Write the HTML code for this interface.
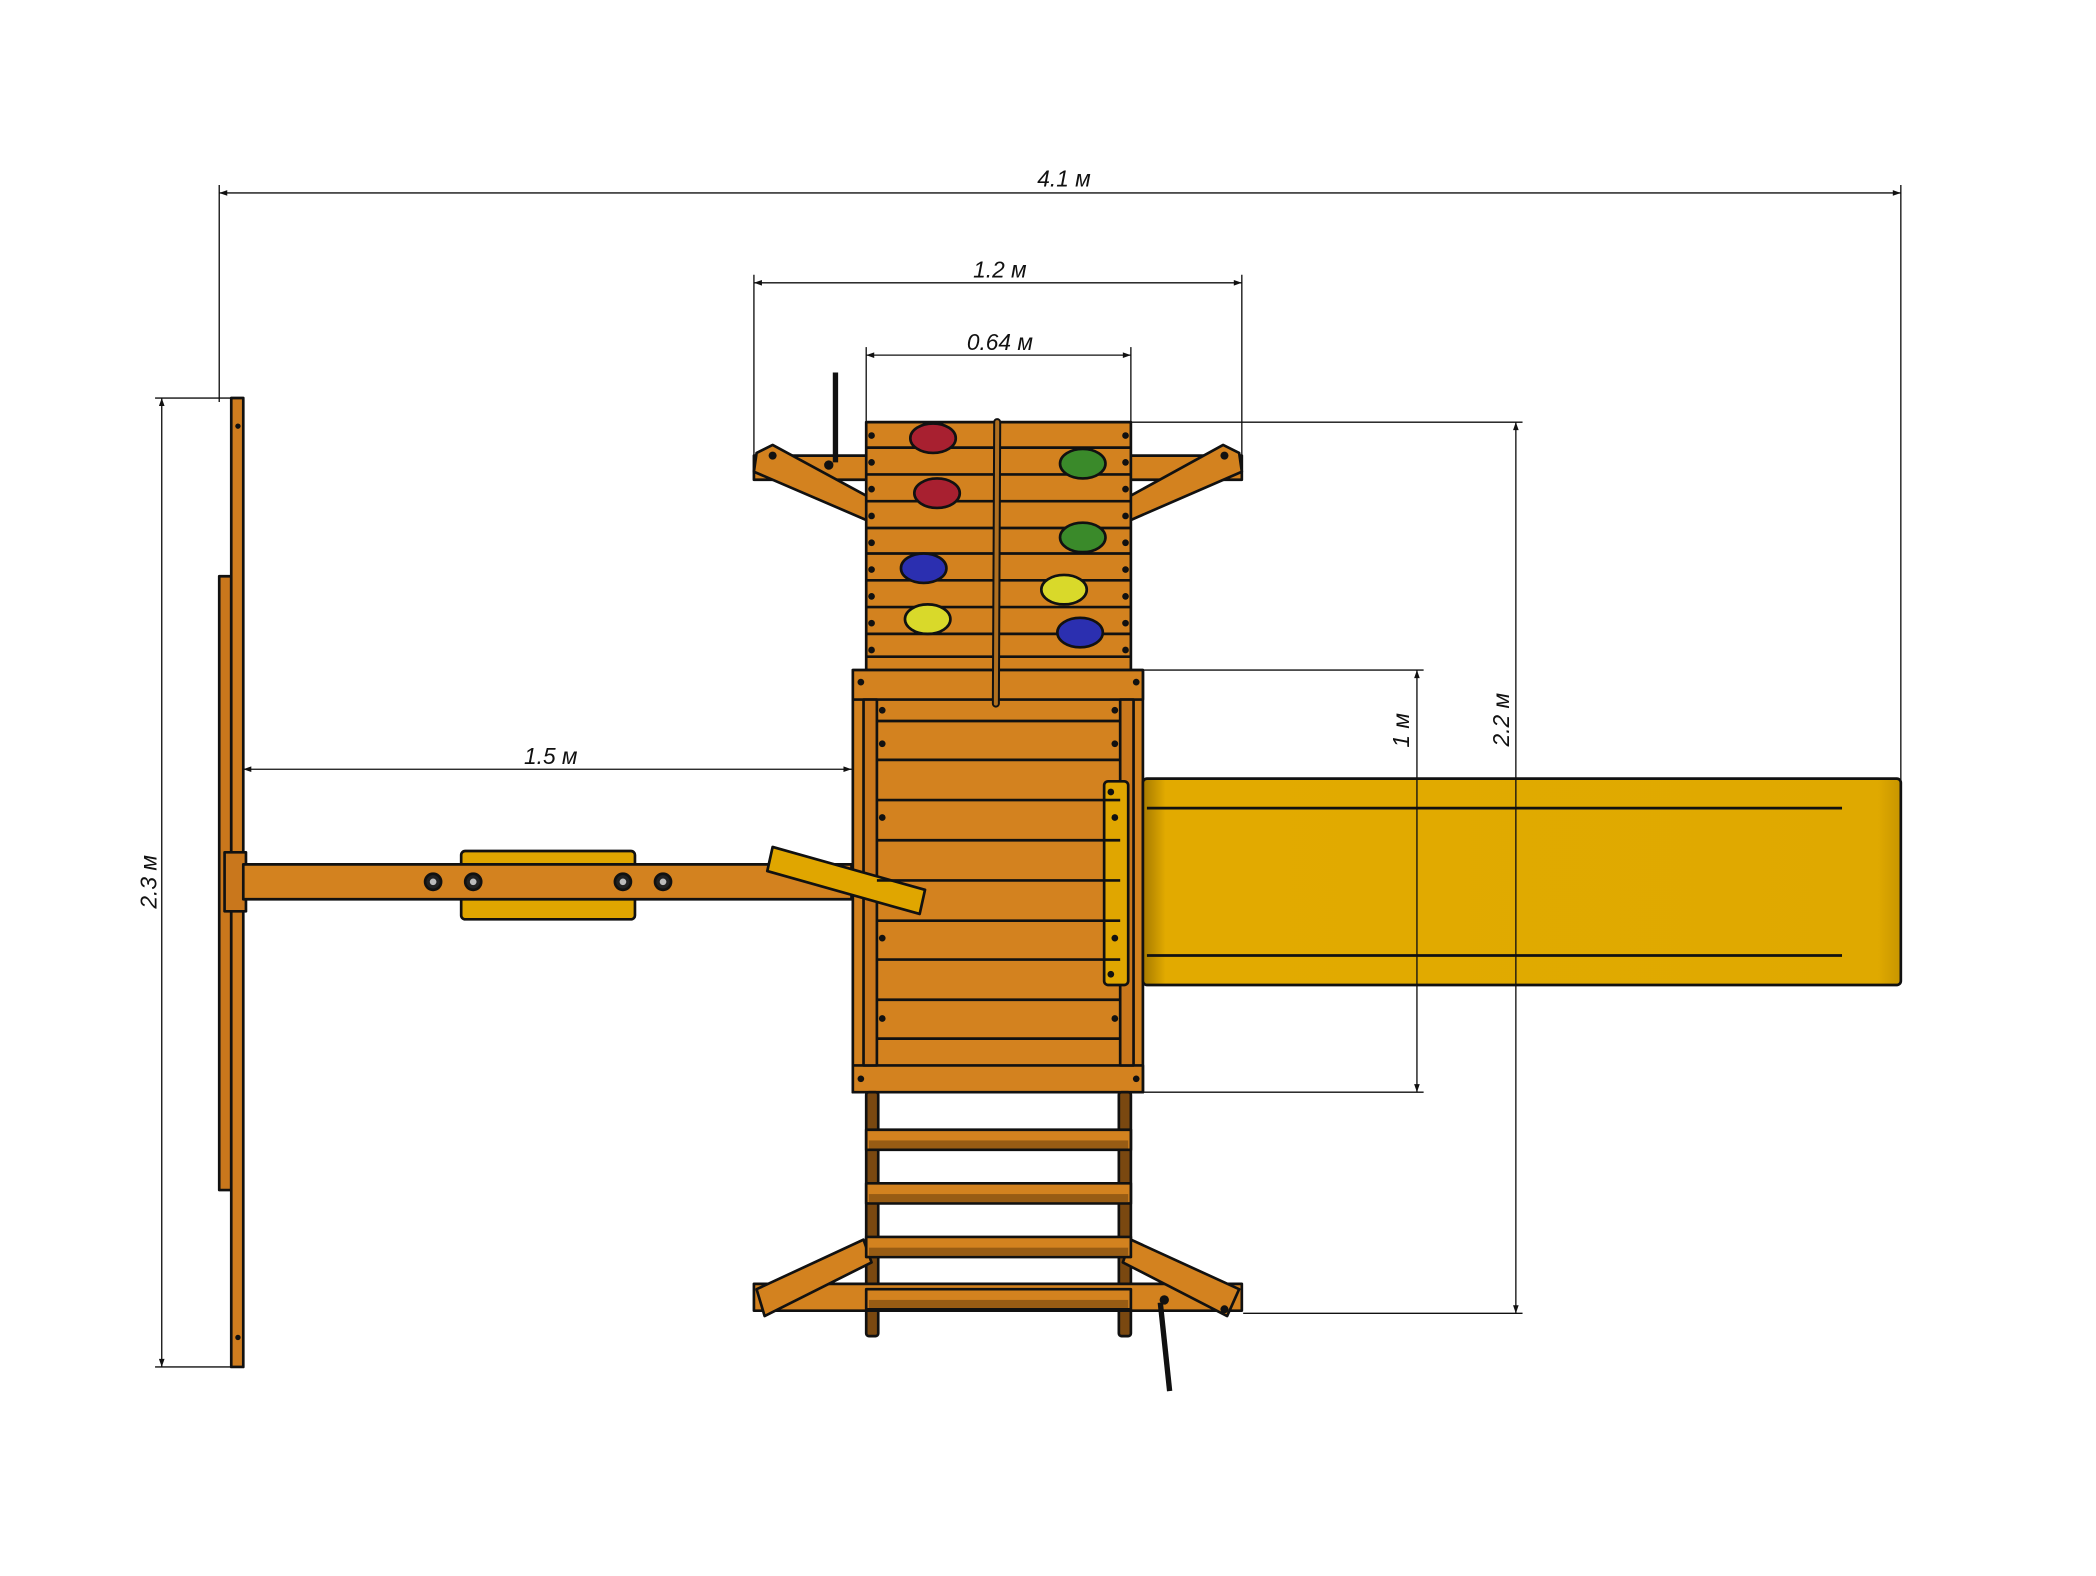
<!DOCTYPE html>
<html><head><meta charset="utf-8"><style>
html,body{margin:0;padding:0;background:#fff}
svg{display:block}
text{font-family:"Liberation Sans",sans-serif;font-style:italic;font-size:17px;fill:#111}
</style></head><body>
<svg width="2096" height="1576" viewBox="0 0 1568 1176" preserveAspectRatio="none" xmlns="http://www.w3.org/2000/svg">
<defs>
<marker id="a" viewBox="0 0 10 10" refX="10" refY="5" markerWidth="14" markerHeight="6" orient="auto-start-reverse" markerUnits="userSpaceOnUse"><path d="M0,1.5 L10,5 L0,8.5 z" fill="#111"/></marker>
<linearGradient id="sl" x1="0" x2="1"><stop offset="0" stop-color="#a57a00"/><stop offset="0.03" stop-color="#e2aa00"/><stop offset="0.97" stop-color="#dfa900"/><stop offset="1" stop-color="#c79500"/></linearGradient>
</defs>
<g stroke="#111" stroke-width="1" fill="none">
<line x1="164" y1="144" x2="1422" y2="144" marker-start="url(#a)" marker-end="url(#a)"/>
<line x1="164" y1="138" x2="164" y2="300"/><line x1="1422" y1="138" x2="1422" y2="582"/>
<line x1="564" y1="211" x2="929" y2="211" marker-start="url(#a)" marker-end="url(#a)"/>
<line x1="564" y1="205" x2="564" y2="340"/><line x1="929" y1="205" x2="929" y2="340"/>
<line x1="648" y1="265" x2="846" y2="265" marker-start="url(#a)" marker-end="url(#a)"/>
<line x1="648" y1="259" x2="648" y2="316"/><line x1="846" y1="259" x2="846" y2="316"/>
<line x1="121" y1="297" x2="121" y2="1020" marker-start="url(#a)" marker-end="url(#a)"/>
<line x1="116" y1="297" x2="180" y2="297"/><line x1="116" y1="1020" x2="180" y2="1020"/>
<line x1="182" y1="574" x2="637" y2="574" marker-start="url(#a)" marker-end="url(#a)"/>
<line x1="855" y1="500" x2="1065" y2="500"/><line x1="855" y1="815" x2="1065" y2="815"/>
<line x1="846" y1="315" x2="1139" y2="315"/><line x1="930" y1="980" x2="1139" y2="980"/>
</g>
<text x="796" y="139" text-anchor="middle">4.1 м</text>
<text x="748" y="207" text-anchor="middle">1.2 м</text>
<text x="748" y="261" text-anchor="middle">0.64 м</text>
<text x="412" y="570" text-anchor="middle">1.5 м</text>
<text transform="translate(117,658) rotate(-90)" text-anchor="middle">2.3 м</text>
<text transform="translate(1054,545) rotate(-90)" text-anchor="middle">1 м</text>
<text transform="translate(1129,537) rotate(-90)" text-anchor="middle">2.2 м</text>

<g stroke="#111" stroke-width="2" stroke-linejoin="round">
<rect x="164" y="430" width="9" height="458" fill="#c9771c"/>
<rect x="173" y="297" width="9" height="723" fill="#cf7d1f"/>
<rect x="168" y="636" width="16" height="44" fill="#c9771c"/>
<rect x="345" y="635" width="130" height="51" rx="3" fill="#e0a600"/>
<rect x="182" y="645" width="455" height="26" fill="#d3821f"/>
<g fill="#222"><circle cx="324" cy="658" r="6"/><circle cx="354" cy="658" r="6"/><circle cx="466" cy="658" r="6"/><circle cx="496" cy="658" r="6"/></g>
<g fill="#bbb" stroke="none"><circle cx="324" cy="658" r="2.5"/><circle cx="354" cy="658" r="2.5"/><circle cx="466" cy="658" r="2.5"/><circle cx="496" cy="658" r="2.5"/></g>
<rect x="564" y="340" width="365" height="18" fill="#d3821f"/>
<polygon points="566,338 578,332 652,372 648,388 564,352" fill="#d3821f"/>
<polygon points="927,338 915,332 842,372 846,388 929,352" fill="#d3821f"/>
<line x1="625" y1="278" x2="625" y2="345" stroke-width="4"/>
<rect x="648" y="315" width="198" height="185" fill="#d3821f"/>
<rect x="638" y="500" width="217" height="315" fill="#d3821f"/>
<rect x="638" y="500" width="217" height="22" fill="#d3821f"/>
<rect x="638" y="795" width="217" height="20" fill="#d3821f"/>
<rect x="646" y="522" width="10" height="273" fill="#c9771c"/>
<rect x="838" y="522" width="10" height="273" fill="#c9771c"/>
<rect x="648" y="815" width="9" height="182" rx="2" fill="#7a4810"/>
<rect x="837" y="815" width="9" height="182" rx="2" fill="#7a4810"/>
<rect x="564" y="958" width="365" height="20" fill="#d3821f"/>
<polygon points="566,962 646,925 652,942 572,982" fill="#d3821f"/>
<polygon points="927,962 846,925 840,942 918,982" fill="#d3821f"/>
<g fill="#d3821f">
<rect x="648" y="843" width="198" height="15"/><rect x="648" y="883" width="198" height="15"/>
<rect x="648" y="923" width="198" height="15"/><rect x="648" y="962" width="198" height="15"/>
</g>
<line x1="868" y1="972" x2="875" y2="1038" stroke-width="4"/>
<rect x="855" y="581" width="567" height="154" rx="3" fill="url(#sl)"/>
<rect x="826" y="583" width="18" height="152" rx="3" fill="#e0a600"/>
<polygon points="578,632 692,664 688,682 574,650" fill="#e0a600"/>
</g>
<g stroke="#111" stroke-width="2">
<line x1="858" y1="603" x2="1378" y2="603"/><line x1="858" y1="713" x2="1378" y2="713"/>
<g stroke="none" fill="#8a5312" opacity="0.8"><rect x="650" y="851" width="194" height="6"/><rect x="650" y="891" width="194" height="6"/><rect x="650" y="931" width="194" height="6"/><rect x="650" y="970" width="194" height="6"/></g>
<line x1="648" y1="334" x2="846" y2="334"/><line x1="648" y1="354" x2="846" y2="354"/>
<line x1="648" y1="374" x2="846" y2="374"/><line x1="648" y1="394" x2="846" y2="394"/>
<line x1="648" y1="413" x2="846" y2="413"/><line x1="648" y1="433" x2="846" y2="433"/>
<line x1="648" y1="453" x2="846" y2="453"/><line x1="648" y1="473" x2="846" y2="473"/>
<line x1="648" y1="490" x2="846" y2="490"/>
<line x1="656" y1="538" x2="838" y2="538"/><line x1="656" y1="567" x2="838" y2="567"/>
<line x1="656" y1="597" x2="838" y2="597"/><line x1="656" y1="627" x2="838" y2="627"/>
<line x1="656" y1="657" x2="838" y2="657"/><line x1="656" y1="687" x2="838" y2="687"/>
<line x1="656" y1="716" x2="838" y2="716"/><line x1="656" y1="746" x2="838" y2="746"/>
<line x1="656" y1="775" x2="838" y2="775"/>
</g>
<g stroke="#111" stroke-width="1" fill="none">
<line x1="1060" y1="500" x2="1060" y2="815" marker-start="url(#a)" marker-end="url(#a)"/>
<line x1="1134" y1="315" x2="1134" y2="980" marker-start="url(#a)" marker-end="url(#a)"/>
</g>
<line x1="746" y1="315" x2="745" y2="525" stroke="#111" stroke-width="6" stroke-linecap="round"/>
<line x1="746" y1="315" x2="745" y2="525" stroke="#b07020" stroke-width="3" stroke-linecap="round"/>
<g stroke="#111" stroke-width="2">
<ellipse cx="698" cy="327" rx="17" ry="11" fill="#a82030"/>
<ellipse cx="701" cy="368" rx="17" ry="11" fill="#a82030"/>
<ellipse cx="691" cy="424" rx="17" ry="11" fill="#2b2fb0"/>
<ellipse cx="694" cy="462" rx="17" ry="11" fill="#d9d92a"/>
<ellipse cx="810" cy="346" rx="17" ry="11" fill="#3a8a2a"/>
<ellipse cx="810" cy="401" rx="17" ry="11" fill="#3a8a2a"/>
<ellipse cx="796" cy="440" rx="17" ry="11" fill="#d9d92a"/>
<ellipse cx="808" cy="472" rx="17" ry="11" fill="#2b2fb0"/>
</g>
<g fill="#111">
<circle cx="652" cy="325" r="2.5"/><circle cx="652" cy="345" r="2.5"/><circle cx="652" cy="365" r="2.5"/><circle cx="652" cy="385" r="2.5"/><circle cx="652" cy="405" r="2.5"/><circle cx="652" cy="425" r="2.5"/><circle cx="652" cy="445" r="2.5"/><circle cx="652" cy="465" r="2.5"/><circle cx="652" cy="485" r="2.5"/>
<circle cx="842" cy="325" r="2.5"/><circle cx="842" cy="345" r="2.5"/><circle cx="842" cy="365" r="2.5"/><circle cx="842" cy="385" r="2.5"/><circle cx="842" cy="405" r="2.5"/><circle cx="842" cy="425" r="2.5"/><circle cx="842" cy="445" r="2.5"/><circle cx="842" cy="465" r="2.5"/><circle cx="842" cy="485" r="2.5"/>
<circle cx="644" cy="509" r="2.5"/><circle cx="850" cy="509" r="2.5"/><circle cx="644" cy="805" r="2.5"/><circle cx="850" cy="805" r="2.5"/>
<circle cx="660" cy="530" r="2.5"/><circle cx="834" cy="530" r="2.5"/><circle cx="660" cy="555" r="2.5"/><circle cx="834" cy="555" r="2.5"/>
<circle cx="660" cy="610" r="2.5"/><circle cx="834" cy="610" r="2.5"/><circle cx="660" cy="700" r="2.5"/><circle cx="834" cy="700" r="2.5"/><circle cx="660" cy="760" r="2.5"/><circle cx="834" cy="760" r="2.5"/>
<circle cx="831" cy="591" r="2.5"/><circle cx="831" cy="727" r="2.5"/>
<circle cx="578" cy="340" r="3"/><circle cx="916" cy="340" r="3"/><circle cx="620" cy="347" r="3.5"/>
<circle cx="916" cy="977" r="3"/><circle cx="871" cy="970" r="3.5"/>
<circle cx="178" cy="318" r="2"/><circle cx="178" cy="998" r="2"/>
</g>
</svg>
</body></html>
